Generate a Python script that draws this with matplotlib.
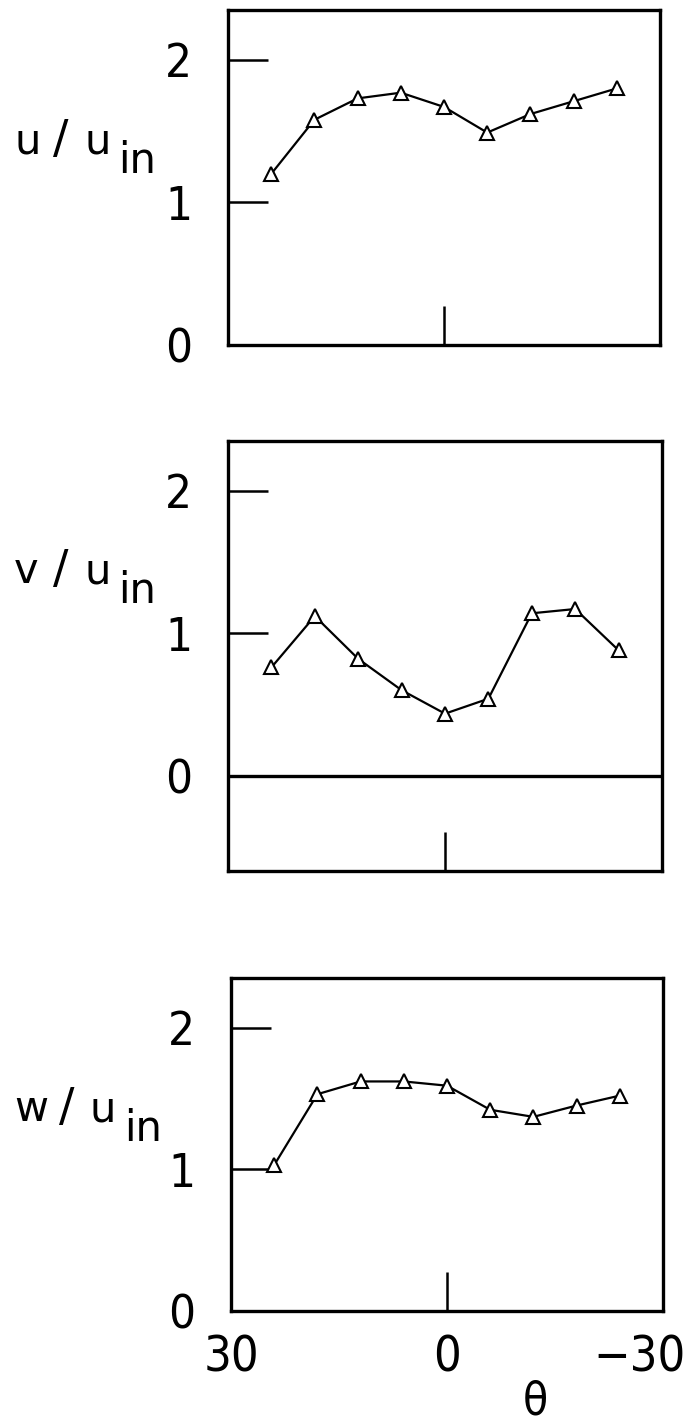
import matplotlib.pyplot as plt
from matplotlib.transforms import ScaledTranslation

W, H = 693, 1422

# flow angle (deg) and velocity ratios
theta = [24, 18, 12, 6, 0, -6, -12, -18, -24]
u_ratio = [1.20, 1.58, 1.73, 1.77, 1.67, 1.49, 1.62, 1.71, 1.80]
v_ratio = [0.76, 1.12, 0.82, 0.60, 0.435, 0.54, 1.14, 1.17, 0.88]
w_ratio = [1.03, 1.53, 1.62, 1.62, 1.59, 1.42, 1.37, 1.45, 1.52]

y_ticks = [0, 1, 2]
x_ticks = [30, 0, -30]
x_labels = ["30", "0", "\u221230"]

NARROW = dict(family="DejaVu Sans", stretch="condensed")
PLAIN = dict(family="DejaVu Sans")


def box(l, t, r, b):
    return [l / W, 1 - b / H, (r - l) / W, (b - t) / H]


def ylabel(name, base, shift=0):
    # velocity component over inlet velocity, written out piece by piece
    y = 1 - base / H
    fig.text(14 / W, y, name, fontsize=30, ha="left", va="baseline", **PLAIN)
    fig.text((53 + shift) / W, y, "/", fontsize=33, ha="left", va="baseline", **PLAIN)
    fig.text((84 + shift) / W, y, "u", fontsize=30, ha="left", va="baseline", **PLAIN)
    fig.text((118 + shift) / W, 1 - (base + 20) / H, "in", fontsize=30,
             ha="left", va="baseline", **PLAIN)


def panel(rect, y, ylo, name, base, shift=0, show_x=False):
    ax = fig.add_axes(box(*rect))
    ax.plot(theta, y, color="black", lw=1.6, marker="^", ms=9.5,
            mfc="white", mec="black", mew=1.5)
    ax.set_xlim(30, -30)
    ax.set_ylim(ylo, 2.35)
    for s in ax.spines.values():
        s.set_linewidth(2.4)
    if ylo < 0:
        ax.axhline(0, color="black", lw=2.4)

    ax.set_yticks(y_ticks)
    ax.set_yticklabels([str(t) for t in y_ticks], fontsize=34, **NARROW)
    ax.tick_params(axis="y", direction="in", length=29, width=1.8, pad=26)

    ax.set_xticks(x_ticks)
    ax.tick_params(axis="x", direction="in", length=28, width=1.8, pad=16)
    for i, tk in enumerate(ax.xaxis.get_major_ticks()):
        if x_ticks[i] != 0:
            tk.tick1line.set_visible(False)
    if show_x:
        ax.set_xticklabels(x_labels, fontsize=35, **NARROW)
        last = ax.get_xticklabels()[-1]
        last.set_horizontalalignment("right")
        last.set_transform(last.get_transform() +
                           ScaledTranslation(0.23, 0, fig.dpi_scale_trans))
        ax.set_xlabel("\u03b8", fontsize=33, **NARROW)
        ax.xaxis.set_label_coords((535 - rect[0]) / (rect[2] - rect[0]), -0.205)
    else:
        ax.set_xticklabels([])

    ylabel(name, base, shift)
    return ax


fig = plt.figure(figsize=(W / 100, H / 100), dpi=100)

panel((228, 10, 660, 345), u_ratio, 0, "u", 153)
panel((228, 441, 662, 871), v_ratio, -0.67, "v", 583)
panel((231, 978, 663, 1311), w_ratio, 0, "w", 1121, shift=6, show_x=True)

fig.savefig("out.png", dpi=100)
